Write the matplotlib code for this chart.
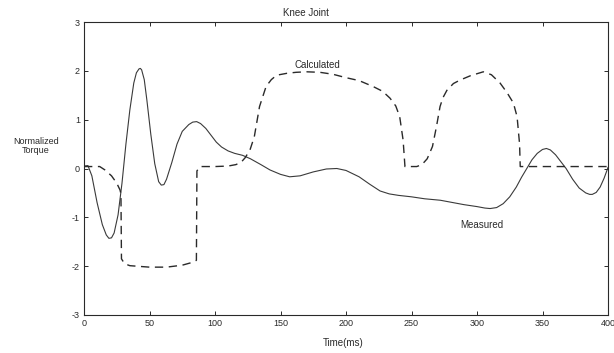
import numpy as np
import matplotlib
matplotlib.use('Agg')
import matplotlib.pyplot as plt

plt.rcParams['font.family'] = ['Liberation Sans', 'DejaVu Sans']
plt.rcParams['axes.unicode_minus'] = False

# Measured torque (solid line)
meas_t = [0, 3, 6, 10, 14, 17, 19, 21, 23, 26, 29, 32, 35, 38, 40, 42, 43, 44, 46, 48, 51,
          54, 57, 59, 61, 63, 67, 71, 75, 80, 83, 86, 89, 93, 97, 101, 105, 110, 115, 121,
          127, 135, 142, 150, 157, 165, 175, 185, 193, 200, 210, 218, 226, 233, 240, 250,
          260, 272, 280, 290, 300, 306, 310, 315, 320, 325, 330, 334, 338, 342, 346, 350,
          353, 356, 360, 364, 368, 373, 378, 383, 386, 388, 391, 394, 397, 400]
meas_v = [0.05, 0.06, -0.15, -0.7, -1.15, -1.36, -1.43, -1.42, -1.32, -0.95, -0.3, 0.5,
          1.2, 1.75, 1.96, 2.04, 2.05, 2.02, 1.82, 1.4, 0.7, 0.1, -0.27, -0.34, -0.33, -0.22,
          0.12, 0.5, 0.76, 0.9, 0.95, 0.96, 0.92, 0.82, 0.68, 0.54, 0.44, 0.36, 0.31, 0.27,
          0.2, 0.08, -0.03, -0.12, -0.17, -0.15, -0.07, -0.01, 0.0, -0.04, -0.17, -0.32,
          -0.46, -0.52, -0.55, -0.58, -0.62, -0.65, -0.69, -0.74, -0.78, -0.81, -0.82,
          -0.8, -0.72, -0.58, -0.38, -0.18, 0.0, 0.18, 0.31, 0.39, 0.41, 0.38, 0.28, 0.14,
          0.0, -0.22, -0.4, -0.5, -0.53, -0.53, -0.49, -0.38, -0.2, 0.02]

# Calculated torque (dashed line)
calc_t = [0, 12, 16, 21, 25, 27.5, 28.2, 28.6, 31, 35, 40, 50, 63, 75, 83, 85.8, 86.2, 88.5,
          100, 110, 116, 120, 123, 126.7, 130, 134, 139, 143, 147, 155, 162, 170, 180, 190,
          200, 210, 220.6, 228, 233.6, 238, 241, 243.6, 245, 254, 258, 262, 266, 269, 271.8,
          274, 277, 282, 287, 295, 304.8, 311, 317.6, 323, 327.8, 330.6, 332.5, 333, 345,
          400]
calc_v = [0.04, 0.04, -0.03, -0.15, -0.3, -0.44, -0.52, -1.85, -1.95, -1.99, -2.0, -2.02,
          -2.02, -1.98, -1.92, -1.88, -0.05, 0.04, 0.04, 0.05, 0.08, 0.13, 0.22, 0.38, 0.65,
          1.27, 1.68, 1.82, 1.91, 1.95, 1.97, 1.98, 1.97, 1.93, 1.86, 1.8, 1.68, 1.58, 1.44,
          1.28, 1.06, 0.58, 0.04, 0.04, 0.08, 0.2, 0.45, 0.85, 1.27, 1.45, 1.6, 1.74, 1.81,
          1.9, 1.98, 1.92, 1.75, 1.55, 1.34, 1.06, 0.5, 0.04, 0.04, 0.04]

xticks = [0, 50, 100, 150, 200, 250, 300, 350, 400]
yticks = [-3, -2, -1, 0, 1, 2, 3]

fig = plt.figure(figsize=(6.14, 3.53), dpi=100)
ax = fig.add_axes([84 / 614, 1 - 315 / 353, (608 - 84) / 614, (315 - 22) / 353])

ink = '#2a2a2a'
ax.plot(meas_t, meas_v, color='#3a3a3a', lw=0.8)
ax.plot(calc_t, calc_v, color=ink, lw=1.0, dashes=(6, 4))

ax.set_xlim(0, 400)
ax.set_ylim(-3, 3)
ax.set_xticks(xticks)
ax.set_yticks(yticks)
ax.tick_params(direction='in', length=3, width=0.7, labelsize=6.5, colors=ink,
               top=True, right=True, pad=3)
for s in ax.spines.values():
    s.set_color(ink)
    s.set_linewidth(0.8)

ax.text(178, 2.12, 'Calculated', fontsize=7, ha='center', va='center', color=ink)
ax.text(304, -1.16, 'Measured', fontsize=7, ha='center', va='center', color=ink)

fig.text(306 / 614, 1 - 13 / 353, 'Knee Joint', fontsize=7, ha='center', va='center', color=ink)
fig.text(343 / 614, 1 - 343 / 353, 'Time(ms)', fontsize=7, ha='center', va='center', color=ink)
fig.text(36 / 614, 1 - 146 / 353, 'Normalized\nTorque', fontsize=6.5, ha='center', va='center',
         color=ink, linespacing=1.0)

fig.savefig('out.png', dpi=100)
